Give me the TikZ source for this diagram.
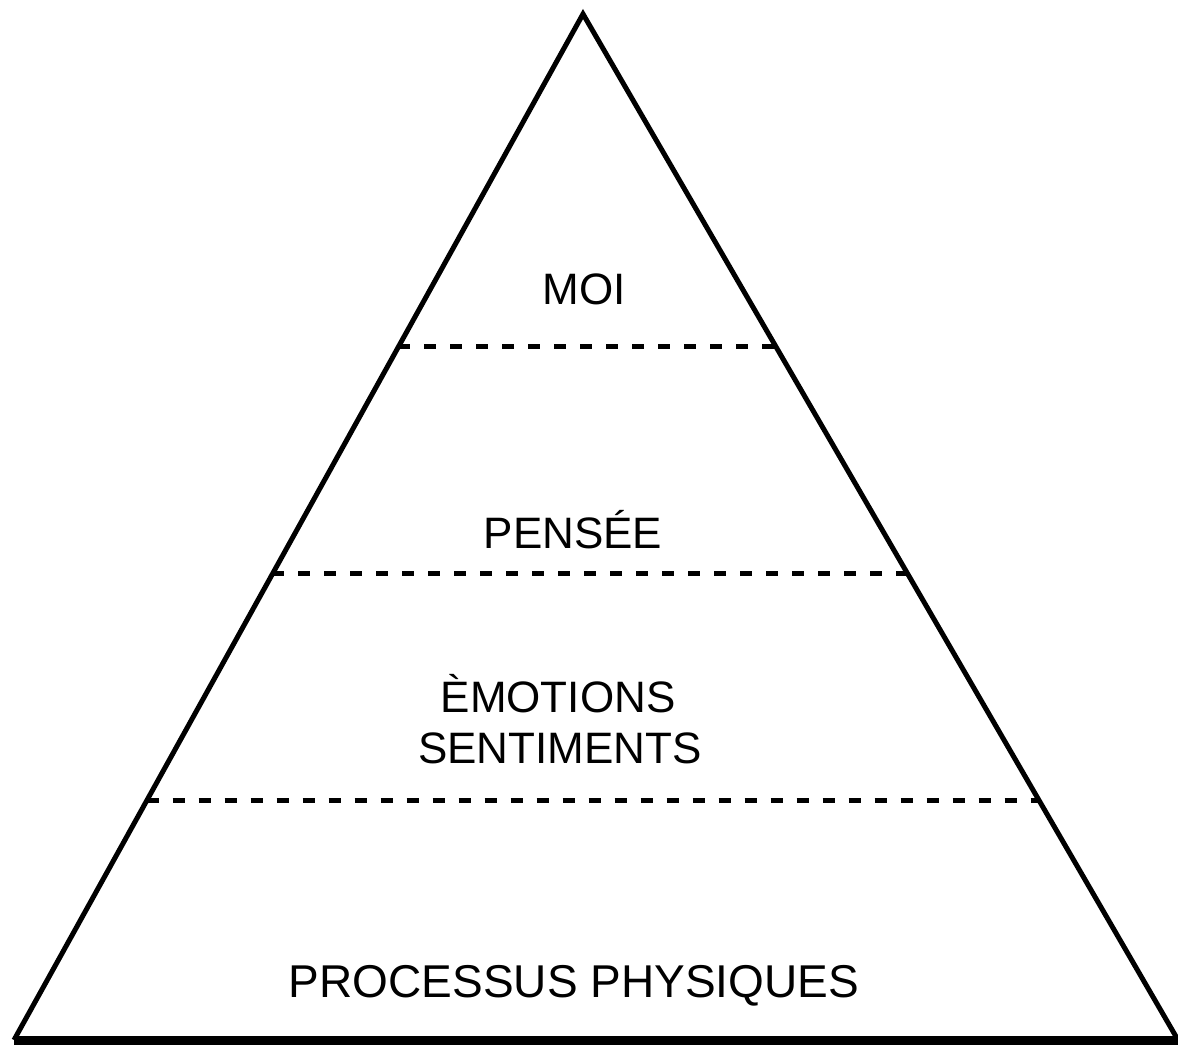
\documentclass[tikz,border=0pt]{standalone}
\usepackage{fontspec}
\setmainfont{Liberation Sans}
\usetikzlibrary{calc}
\begin{document}
\begin{tikzpicture}[x=1pt,y=-1pt,
  side/.style={line width=5pt,line join=miter},
  basel/.style={line width=9pt},
  sep/.style={line width=5pt,dash pattern=on 12pt off 14pt},
  lbl/.style={anchor=base,inner sep=0pt,font=\fontsize{44}{50}\selectfont}]
\useasboundingbox (0,0) rectangle (1178,1048);
\coordinate (apex) at (583,14);
\coordinate (bl) at (14,1040);
\coordinate (br) at (1178,1040);
\draw[side] (bl) -- (apex) -- (br);
\draw[basel] (bl) -- (br);
% separators on the sides
\coordinate (l1) at ($(apex)!{(347-14)/1026}!(bl)$);
\coordinate (r1) at ($(apex)!{(347-14)/1026}!(br)$);
\coordinate (l2) at ($(apex)!{(574-14)/1026}!(bl)$);
\coordinate (r2) at ($(apex)!{(574-14)/1026}!(br)$);
\coordinate (l3) at ($(apex)!{(801-14)/1026}!(bl)$);
\coordinate (r3) at ($(apex)!{(801-14)/1026}!(br)$);
\draw[sep] (l1) -- (r1);
\draw[sep] (l2) -- (r2);
\draw[sep] (l3) -- (r3);
\node[lbl] (moi) at (584,305) {MOI};
\node[lbl] (pensee) at (573,548) {PENSÉE};
\node[lbl] (emotions) at (558,712) {ÈMOTIONS};
\node[lbl] (sentiments) at (560,763) {SENTIMENTS};
\node[lbl,font=\fontsize{46}{52}\selectfont] (processus) at (574,997) {PROCESSUS PHYSIQUES};
\end{tikzpicture}
\end{document}
